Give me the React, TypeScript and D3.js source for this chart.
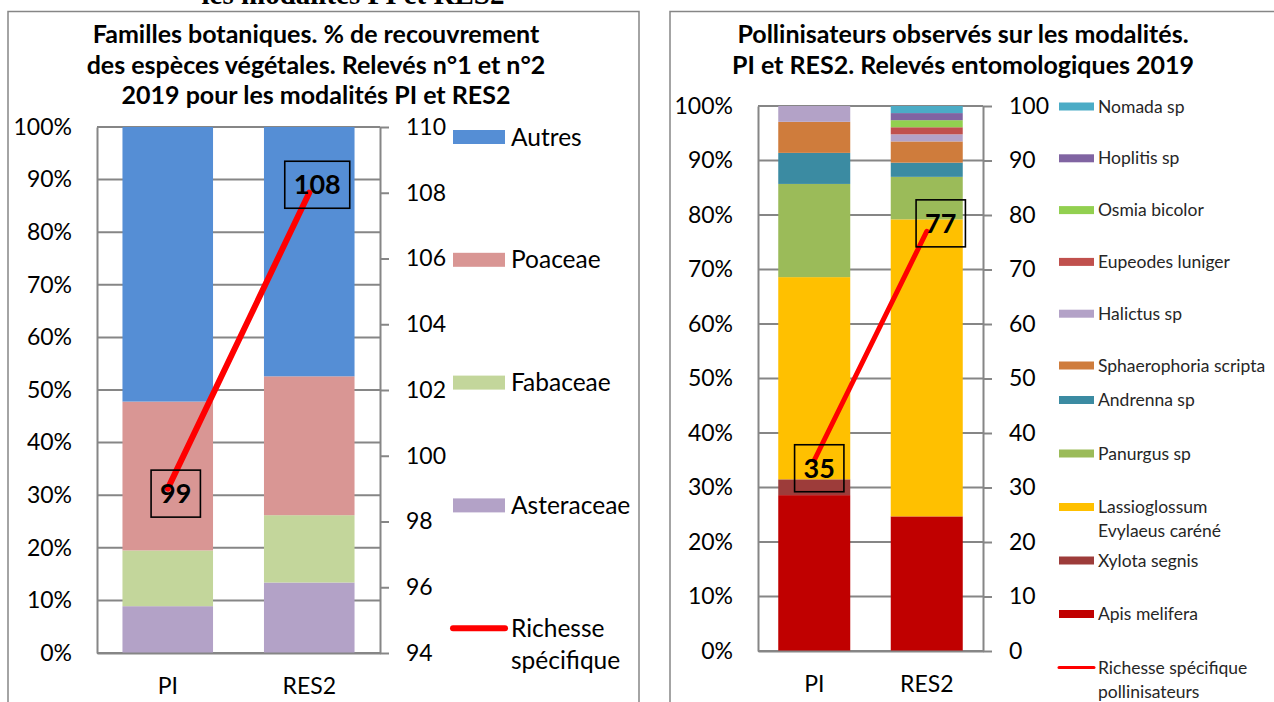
import React, { useEffect, useRef } from 'react';
import * as d3 from 'd3';

const categories = ['PI', 'RES2'];

// graphique 1 : familles botaniques, % de recouvrement
const familles = ['Asteraceae', 'Fabaceae', 'Poaceae', 'Autres'];
const famillesPI = [8.9, 10.6, 28.3, 52.2];
const famillesRES2 = [13.4, 12.8, 26.4, 47.4];
const famillesColors = ['#b3a2c7', '#c3d69b', '#d99694', '#558ed5'];
const richesseFlore = [99, 108];
const floreTicks = [94, 96, 98, 100, 102, 104, 106, 108, 110];

// graphique 2 : pollinisateurs observés
const pollinisateurs = [
    'Apis melifera', 'Xylota segnis', 'Lassioglossum\nEvylaeus caréné', 'Panurgus sp',
    'Andrenna sp', 'Sphaerophoria scripta', 'Halictus sp', 'Eupeodes luniger',
    'Osmia bicolor', 'Hoplitis sp', 'Nomada sp',
];
const pollPI = [28.6, 2.9, 37.1, 17.1, 5.7, 5.7, 2.9, 0, 0, 0, 0];
const pollRES2 = [24.7, 0, 54.5, 7.8, 2.6, 3.9, 1.3, 1.3, 1.3, 1.3, 1.3];
const pollColors = [
    '#c00000', '#9d3c3a', '#ffc000', '#9bbb59', '#3b8ba2', '#cf7c3c',
    '#b3a2c7', '#c0504d', '#92d050', '#8064a2', '#4bacc6',
];
const richessePoll = [35, 77];
const pollTicks = [0, 10, 20, 30, 40, 50, 60, 70, 80, 90, 100];

const pctTicks = [0, 10, 20, 30, 40, 50, 60, 70, 80, 90, 100];

const FONT = 'Lato, "Open Sans", sans-serif';
const GRID = '#868686';

function drawChart(svg, c) {
    const g = svg.append('g');

    // cadre
    g.append('rect')
        .attr('x', c.panel[0]).attr('y', c.panel[1])
        .attr('width', c.panel[2]).attr('height', c.panel[3])
        .attr('fill', 'white').attr('stroke', GRID).attr('stroke-width', 1.5);

    g.selectAll('.title')
        .data(c.title)
        .join('text')
        .attr('x', c.titleX)
        .attr('y', (d, i) => c.titleY + i * c.titleStep)
        .attr('text-anchor', 'middle')
        .style('font-family', FONT)
        .style('font-weight', 700)
        .style('font-size', '25px')
        .text(d => d);

    const x = d3.scaleBand()
        .domain(categories)
        .range([c.x0, c.x1])
        .paddingInner(0.36)
        .paddingOuter(0.18);

    const y = d3.scaleLinear().domain([0, 100]).range([c.y0, c.y1]);
    const y2 = d3.scaleLinear()
        .domain([c.rightTicks[0], c.rightTicks[c.rightTicks.length - 1]])
        .range([c.y0, c.y1]);

    // grille
    g.selectAll('.grid')
        .data(pctTicks)
        .join('line')
        .attr('x1', c.x0).attr('x2', c.x1)
        .attr('y1', d => y(d)).attr('y2', d => y(d))
        .attr('stroke', GRID).attr('stroke-width', 2);

    // barres empilées
    const table = categories.map((cat, i) => {
        const row = { cat };
        c.series.forEach((s, j) => { row[s] = c.values[i][j]; });
        return row;
    });
    const stacked = d3.stack().keys(c.series)(table);

    g.selectAll('.layer')
        .data(stacked)
        .join('g')
        .attr('fill', (d, i) => c.colors[i])
        .selectAll('rect')
        .data(d => d)
        .join('rect')
        .attr('x', d => x(d.data.cat))
        .attr('width', x.bandwidth())
        .attr('y', d => y(d[1]))
        .attr('height', d => y(d[0]) - y(d[1]));

    // axes
    const left = g.append('g')
        .attr('transform', `translate(${c.x0},0)`)
        .call(d3.axisLeft(y).tickValues(pctTicks).tickFormat(d => d + '%').tickSize(0).tickSizeOuter(0).tickPadding(25));
    const right = g.append('g')
        .attr('transform', `translate(${c.x1},0)`)
        .call(d3.axisRight(y2).tickValues(c.rightTicks).tickSize(9).tickSizeOuter(0).tickPadding(17));
    const bottom = g.append('g')
        .attr('transform', `translate(0,${c.y0})`)
        .call(d3.axisBottom(x).tickSize(0).tickSizeOuter(0).tickPadding(25));

    [left, right, bottom].forEach(a => {
        a.attr('font-family', null).attr('font-size', null);
        a.selectAll('path, line').attr('stroke', GRID).attr('stroke-width', 2);
        a.selectAll('text')
            .attr('fill', '#000')
            .style('font-family', FONT)
            .style('font-size', '23px');
    });

    // richesse spécifique
    const cx = cat => x(cat) + x.bandwidth() / 2;
    const line = d3.line()
        .x((d, i) => cx(categories[i]))
        .y(d => y2(d));

    g.append('path')
        .datum(c.richness)
        .attr('d', line)
        .attr('fill', 'none')
        .attr('stroke', '#ff0000')
        .attr('stroke-width', c.lineWidth)
        .attr('stroke-linecap', 'round');

    c.richness.forEach((v, i) => {
        const lx = cx(categories[i]) + c.labelOffsets[i][0];
        const ly = y2(v) + c.labelOffsets[i][1];
        const t = g.append('text')
            .attr('x', lx)
            .attr('y', ly)
            .attr('dy', '0.36em')
            .attr('text-anchor', 'middle')
            .style('font-family', FONT)
            .style('font-weight', 700)
            .style('font-size', '27px')
            .text(v);
        const w = t.node().getComputedTextLength() + 18;
        g.insert('rect', () => t.node())
            .attr('x', lx - w / 2)
            .attr('y', ly - 23.5)
            .attr('width', w)
            .attr('height', 47)
            .attr('fill', 'none')
            .attr('stroke', '#000')
            .attr('stroke-width', 1.6);
    });

    // légende
    const entries = c.series.map((s, i) => ({ name: s, color: c.colors[i] })).reverse();
    entries.push({ name: c.lineName, color: '#ff0000', line: true });

    entries.forEach((e, i) => {
        const ly = c.legendY(i);
        if (e.line) {
            g.append('line')
                .attr('x1', c.legendX).attr('x2', c.legendX + c.swatchW)
                .attr('y1', ly).attr('y2', ly)
                .attr('stroke', e.color)
                .attr('stroke-width', c.legendLineW)
                .attr('stroke-linecap', 'round');
        } else {
            g.append('rect')
                .attr('x', c.legendX).attr('y', ly - c.swatchH / 2)
                .attr('width', c.swatchW).attr('height', c.swatchH)
                .attr('fill', e.color);
        }
        g.append('text')
            .attr('x', c.legendX + c.swatchW + c.textGap)
            .attr('y', ly)
            .attr('fill', c.legendColor)
            .style('font-family', FONT)
            .style('font-size', c.legendFont + 'px')
            .selectAll('tspan')
            .data(e.name.split('\n'))
            .join('tspan')
            .attr('x', c.legendX + c.swatchW + c.textGap)
            .attr('dy', (d, k) => (k === 0 ? '0.35em' : c.legendLineStep))
            .text(d => d);
    });
}

const App = () => {
    const svgRef = useRef();

    useEffect(() => {
        const svg = d3.select(svgRef.current);
        svg.selectAll('*').remove();

        // titre du document, coupé en haut de la page
        svg.append('text')
            .attr('x', 353)
            .attr('y', 4)
            .attr('text-anchor', 'middle')
            .style('font-family', '"Liberation Serif", "Times New Roman", serif')
            .style('font-weight', 700)
            .style('font-size', '29px')
            .text('les modalités PI et RES2');

        drawChart(svg, {
            panel: [8, 11.5, 631, 720],
            title: [
                'Familles botaniques. % de recouvrement',
                'des espèces végétales. Relevés n°1 et n°2',
                '2019 pour les modalités PI et RES2',
            ],
            titleX: 316,
            titleY: 43,
            titleStep: 30.7,
            x0: 97, x1: 380, y0: 653, y1: 127,
            series: familles,
            values: [famillesPI, famillesRES2],
            colors: famillesColors,
            rightTicks: floreTicks,
            richness: richesseFlore,
            lineWidth: 6,
            labelOffsets: [[8, 5], [8, -8]],
            lineName: 'Richesse\nspécifique',
            legendX: 453,
            swatchW: 52,
            swatchH: 14,
            textGap: 6,
            legendFont: 24.5,
            legendLineW: 6,
            legendLineStep: 32,
            legendColor: '#000',
            legendY: i => 137 + i * 122.8,
        });

        drawChart(svg, {
            panel: [670, 11.5, 620, 720],
            title: [
                'Pollinisateurs observés sur les modalités.',
                'PI et RES2. Relevés entomologiques 2019',
            ],
            titleX: 963,
            titleY: 43,
            titleStep: 30.5,
            x0: 758, x1: 983, y0: 651, y1: 106,
            series: pollinisateurs,
            values: [pollPI, pollRES2],
            colors: pollColors,
            rightTicks: pollTicks,
            richness: richessePoll,
            lineWidth: 5,
            labelOffsets: [[5, 8], [14, -8]],
            lineName: 'Richesse spécifique\npollinisateurs',
            legendX: 1059,
            swatchW: 35,
            swatchH: 8,
            textGap: 4,
            legendFont: 17.5,
            legendLineW: 3,
            legendLineStep: 24,
            legendColor: '#262626',
            // l'entrée sur deux lignes décale la suite de la légende
            legendY: i => (i < 6 ? 106.5 + i * 51.8 : 400 + (i - 6) * 53.5),
        });
    }, []);

    return (
        <svg
            ref={svgRef}
            width={1274}
            height={702}
            style={{ position: 'absolute', left: 0, top: 0, background: 'white' }}
        />
    );
};

export default App;
